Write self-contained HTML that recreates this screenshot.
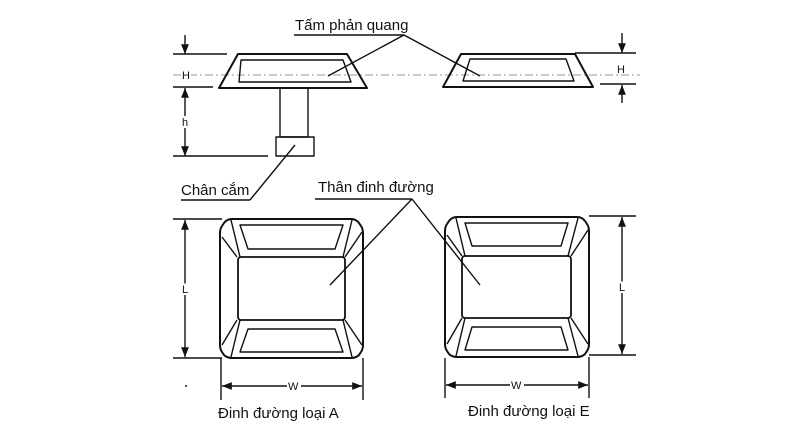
<!DOCTYPE html>
<html><head><meta charset="utf-8"><style>
html,body{margin:0;padding:0;background:#fff;}
svg{display:block}
text{font-family:"Liberation Sans",Arial,sans-serif;fill:#111}
</style></head><body>
<svg width="801" height="436" viewBox="0 0 801 436" xmlns="http://www.w3.org/2000/svg">
<defs>
<marker id="a" viewBox="0 0 10 10" refX="10" refY="5" markerWidth="7" markerHeight="7" orient="auto-start-reverse"><path d="M0,1 L10,5 L0,9 z" fill="#111"/></marker>
</defs>
<g stroke="#111" fill="none" stroke-width="1.4" stroke-linejoin="round">
<line x1="173" y1="75" x2="640" y2="75" stroke="#999" stroke-width="1" stroke-dasharray="8,3,2,3"/>
<!-- left side view -->
<polygon points="238,54 347,54 367,88 219,88" stroke-width="2"/>
<polygon points="241,60 343,60 351,82 239,82"/>
<rect x="280" y="88" width="28" height="49"/>
<rect x="276" y="137" width="38" height="19"/>
<line x1="173" y1="54" x2="227" y2="54"/>
<line x1="173" y1="87" x2="213" y2="87"/>
<line x1="173" y1="156" x2="268" y2="156"/>
<line x1="185" y1="35" x2="185" y2="54" marker-end="url(#a)"/>
<line x1="185" y1="88" x2="185" y2="156" marker-start="url(#a)" marker-end="url(#a)"/>
<!-- right side view -->
<polygon points="461,54 575,54 593,87 443,87" stroke-width="2"/>
<polygon points="470,59 566,59 574,81 463,81"/>
<line x1="575" y1="53" x2="636" y2="53"/>
<line x1="600" y1="84" x2="636" y2="84"/>
<line x1="622" y1="33" x2="622" y2="53" marker-end="url(#a)"/>
<line x1="622" y1="103" x2="622" y2="85" marker-end="url(#a)"/>
<!-- leaders -->
<line x1="294" y1="35" x2="404" y2="35"/>
<line x1="404" y1="35" x2="328" y2="76"/>
<line x1="404" y1="35" x2="480" y2="76"/>
<line x1="181" y1="200" x2="250" y2="200"/>
<line x1="250" y1="200" x2="295" y2="145"/>
<line x1="315" y1="199" x2="412" y2="199"/>
<line x1="412" y1="199" x2="330" y2="285"/>
<line x1="412" y1="199" x2="480" y2="285"/>
<!-- left square -->
<path d="M232,219 L351,219 Q356,219 359,223 L361,226 Q363,229 363,233 L363,345 Q363,349 361,352 L359,355 Q356,358 351,358 L232,358 Q227,358 224,355 L222,352 Q220,349 220,345 L220,233 Q220,229 222,226 L224,223 Q227,219 232,219 Z" stroke-width="2"/>
<rect x="238" y="257" width="107" height="63" rx="3" stroke-width="1.8"/>
<line x1="222" y1="237" x2="237" y2="257"/><line x1="231" y1="220" x2="240" y2="257"/>
<line x1="362" y1="232" x2="345" y2="257"/><line x1="352" y1="220" x2="343" y2="257"/>
<line x1="222" y1="345" x2="237" y2="320"/><line x1="231" y1="357" x2="240" y2="320"/>
<line x1="362" y1="345" x2="345" y2="320"/><line x1="352" y1="357" x2="343" y2="320"/>
<polygon points="240,225 343,225 335,249 248,249"/>
<polygon points="248,329 335,329 343,352 240,352"/>
<line x1="173" y1="219" x2="222" y2="219"/>
<line x1="173" y1="358" x2="222" y2="358"/>
<line x1="185" y1="220" x2="185" y2="357" marker-start="url(#a)" marker-end="url(#a)"/>
<line x1="221" y1="358" x2="221" y2="400"/>
<line x1="363" y1="358" x2="363" y2="400"/>
<line x1="222" y1="386" x2="287" y2="386" marker-start="url(#a)"/>
<line x1="301" y1="386" x2="362" y2="386" marker-end="url(#a)"/>
<!-- right square -->
<path d="M457,217 L577,217 Q582,217 585,221 L587,224 Q589,227 589,231 L589,344 Q589,348 587,351 L585,354 Q582,357 577,357 L457,357 Q452,357 449,354 L447,351 Q445,348 445,344 L445,231 Q445,227 447,224 L449,221 Q452,217 457,217 Z" stroke-width="2"/>
<rect x="462" y="256" width="109" height="62" rx="3" stroke-width="1.8"/>
<line x1="447" y1="235" x2="462" y2="256"/><line x1="456" y1="218" x2="465" y2="256"/>
<line x1="588" y1="230" x2="571" y2="256"/><line x1="578" y1="218" x2="568" y2="256"/>
<line x1="447" y1="344" x2="462" y2="318"/><line x1="456" y1="356" x2="465" y2="318"/>
<line x1="588" y1="344" x2="571" y2="318"/><line x1="578" y1="356" x2="568" y2="318"/>
<polygon points="465,223 568,223 561,246 472,246"/>
<polygon points="472,327 561,327 568,350 465,350"/>
<line x1="589" y1="216" x2="636" y2="216"/>
<line x1="589" y1="355" x2="636" y2="355"/>
<line x1="622" y1="217" x2="622" y2="354" marker-start="url(#a)" marker-end="url(#a)"/>
<line x1="445" y1="358" x2="445" y2="398"/>
<line x1="589" y1="357" x2="589" y2="398"/>
<line x1="446" y1="385" x2="510" y2="385" marker-start="url(#a)"/>
<line x1="524" y1="385" x2="588" y2="385" marker-end="url(#a)"/>
</g>
<circle cx="186" cy="386" r="1" fill="#111"/>
<g font-size="15">
<text x="295" y="30">Tấm phản quang</text>
<text x="181" y="195">Chân cắm</text>
<text x="318" y="192">Thân đinh đường</text>
<text x="218" y="418">Đinh đường loại A</text>
<text x="468" y="416">Đinh đường loại E</text>
</g>
<g font-size="11">
<text x="182" y="79" style="paint-order:stroke" stroke="#fff" stroke-width="4">H</text>
<text x="182" y="126" style="paint-order:stroke" stroke="#fff" stroke-width="4">h</text>
<text x="617" y="73">H</text>
<text x="182" y="293" style="paint-order:stroke" stroke="#fff" stroke-width="4">L</text>
<text x="619" y="291" style="paint-order:stroke" stroke="#fff" stroke-width="4">L</text>
<text x="288" y="390">W</text>
<text x="511" y="389">W</text>
</g>
</svg>
</body></html>
